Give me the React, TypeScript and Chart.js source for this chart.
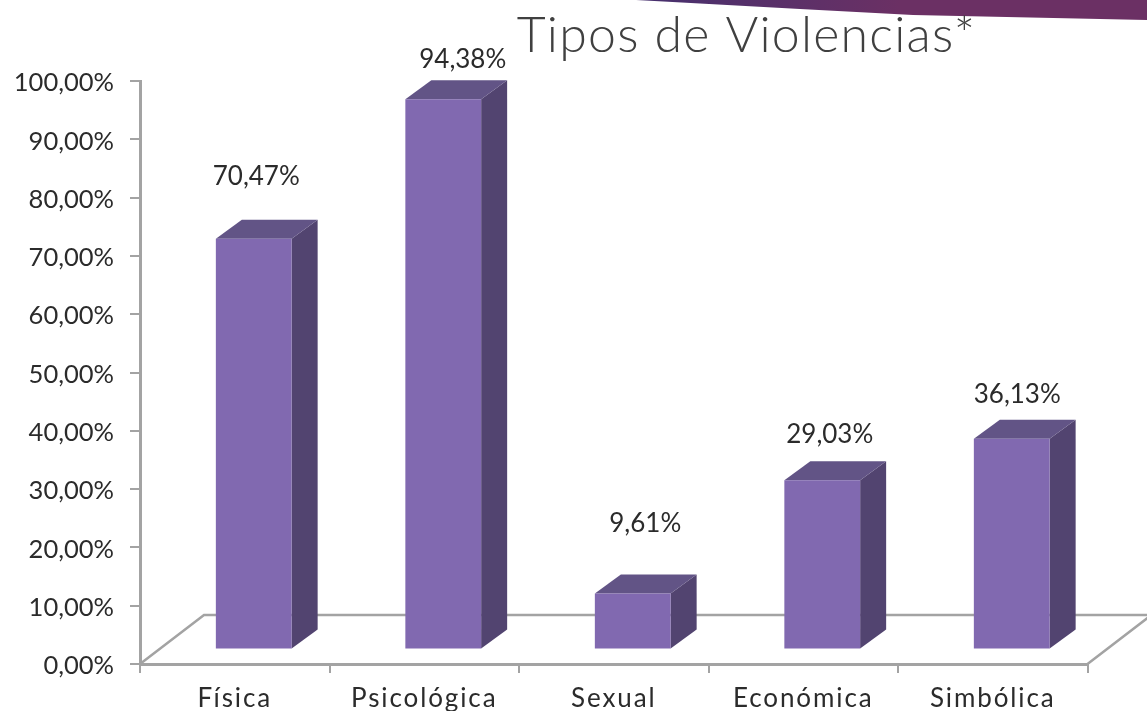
import React, { useEffect, useRef } from "react";
import { Chart, registerables } from "chart.js";

Chart.register(...registerables);

const categories = ["Física", "Psicológica", "Sexual", "Económica", "Simbólica"];
const seriesValues = [70.47, 94.38, 9.61, 29.03, 36.13];
const yTickValues = [0, 10, 20, 30, 40, 50, 60, 70, 80, 90, 100];
const titleText = "Tipos de Violencias*";

const FONT = "Lato, 'Noto Sans', sans-serif";
const TEXT = "#2b2b2b";
const AXIS = "#a3a3a3";
const FRONT = "#8169b0";
const SIDE = "#524470";
const TOP = "#625486";
const FLOOR_DX = 64;
const FLOOR_DY = -49;
const BAR_SHIFT_X = 19;
const BAR_SHIFT_Y = -14.5;
const BAR_DX = 26;
const BAR_DY = -19;
const labelShiftX = [2.5, 19.5, 12.5, 7.5, 5.5];
const labelLift = [43, 21, 51, 27, 25];

const fmt = (v: number) => v.toFixed(2).replace(".", ",") + "%";

const banner = {
  id: "banner",
  beforeDraw(chart: any) {
    const { ctx } = chart;
    const g = ctx.createLinearGradient(640, 0, 900, 0);
    g.addColorStop(0, "#46306e");
    g.addColorStop(1, "#6b3064");
    ctx.save();
    ctx.fillStyle = g;
    ctx.beginPath();
    ctx.moveTo(636, 0);
    ctx.lineTo(1147, 0);
    ctx.lineTo(1147, 20);
    ctx.lineTo(913, 15);
    ctx.lineTo(800, 9);
    ctx.lineTo(700, 3.5);
    ctx.closePath();
    ctx.fill();
    ctx.fillStyle = "#404040";
    ctx.font = `300 50px ${FONT}`;
    ctx.textAlign = "center";
    ctx.textBaseline = "alphabetic";
    (ctx as any).letterSpacing = "1.25px";
    ctx.fillText(titleText, 746.5, 52);
    ctx.restore();
  },
};

const floor = {
  id: "floor",
  afterLayout(chart: any) {
    const x = chart.scales.x;
    const orig = x.constructor.prototype.drawLabels;
    x.drawLabels = function (area: any) {
      const c = this.ctx;
      c.save();
      c.letterSpacing = "1.9px";
      orig.call(this, area);
      c.restore();
    };
  },
  beforeDatasetsDraw(chart: any) {
    const { ctx, chartArea: a, width } = chart;
    ctx.save();
    ctx.strokeStyle = AXIS;
    ctx.lineWidth = 2.5;
    ctx.beginPath();
    ctx.moveTo(a.left, a.bottom);
    ctx.lineTo(a.left + FLOOR_DX, a.bottom + FLOOR_DY);
    ctx.lineTo(width, a.bottom + FLOOR_DY);
    ctx.moveTo(a.right, a.bottom);
    ctx.lineTo(a.right + FLOOR_DX, a.bottom + FLOOR_DY);
    ctx.stroke();
    ctx.restore();
  },
};

const bars3d = {
  id: "bars3d",
  beforeDatasetDraw(chart: any) {
    const { ctx } = chart;
    ctx.save();
    ctx.beginPath();
    ctx.rect(0, 0, chart.width, chart.height);
    ctx.clip();
    ctx.translate(BAR_SHIFT_X, BAR_SHIFT_Y);
    chart.getDatasetMeta(0).data.forEach((bar: any) => {
      const l = bar.x - bar.width / 2;
      const r = bar.x + bar.width / 2;
      ctx.fillStyle = SIDE;
      ctx.beginPath();
      ctx.moveTo(r, bar.y);
      ctx.lineTo(r + BAR_DX, bar.y + BAR_DY);
      ctx.lineTo(r + BAR_DX, bar.base + BAR_DY);
      ctx.lineTo(r, bar.base);
      ctx.closePath();
      ctx.fill();
      ctx.fillStyle = TOP;
      ctx.beginPath();
      ctx.moveTo(l, bar.y);
      ctx.lineTo(l + BAR_DX, bar.y + BAR_DY);
      ctx.lineTo(r + BAR_DX, bar.y + BAR_DY);
      ctx.lineTo(r, bar.y);
      ctx.closePath();
      ctx.fill();
    });
  },
  afterDatasetDraw(chart: any) {
    chart.ctx.restore();
  },
  afterDatasetsDraw(chart: any) {
    const { ctx } = chart;
    ctx.save();
    ctx.fillStyle = TEXT;
    ctx.font = `26px ${FONT}`;
    ctx.textAlign = "center";
    ctx.textBaseline = "middle";
    chart.getDatasetMeta(0).data.forEach((bar: any, i: number) => {
      ctx.fillText(
        fmt(seriesValues[i]),
        bar.x + BAR_SHIFT_X + labelShiftX[i],
        bar.y + BAR_SHIFT_Y + BAR_DY - labelLift[i]
      );
    });
    ctx.restore();
  },
};

export default function App() {
  const ref = useRef<HTMLCanvasElement>(null);
  useEffect(() => {
    const chart = new Chart(ref.current as HTMLCanvasElement, {
      type: "bar",
      data: {
        labels: categories,
        datasets: [
          {
            label: "Tipos de Violencias",
            data: seriesValues,
            backgroundColor: FRONT,
            categoryPercentage: 1,
            barPercentage: 0.4,
          },
        ],
      },
      options: {
        responsive: false,
        animation: false,
        layout: { padding: { top: 81, right: 59.5, left: 0, bottom: 0 } },
        plugins: { legend: { display: false }, tooltip: { enabled: false }, title: { display: false } },
        scales: {
          x: {
            afterFit: (s: any) => {
              s.height = 47;
            },
            border: { color: AXIS, width: 3 },
            grid: { drawOnChartArea: false, color: AXIS, lineWidth: 2, tickLength: 9 },
            ticks: { color: TEXT, font: { family: FONT, size: 26 }, padding: 10, maxRotation: 0 },
          },
          y: {
            min: 0,
            max: 100,
            afterFit: (s: any) => {
              s.width = 140;
            },
            afterBuildTicks: (s: any) => {
              s.ticks = yTickValues.map((value) => ({ value }));
            },
            border: { color: AXIS, width: 3 },
            grid: { drawOnChartArea: false, color: AXIS, lineWidth: 2, tickLength: 10 },
            ticks: {
              color: TEXT,
              font: { family: FONT, size: 25.5 },
              padding: 16,
              labelOffset: 2,
              callback: (v: any) => fmt(Number(v)),
            },
          },
        },
      },
      plugins: [banner, floor, bars3d],
    } as any);
    return () => chart.destroy();
  }, []);
  return (
    <div style={{ position: "absolute", left: 0, top: 0, width: 1147, height: 711, background: "#fff", overflow: "hidden" }}>
      <canvas ref={ref} width={1147} height={711} style={{ display: "block" }} />
    </div>
  );
}
